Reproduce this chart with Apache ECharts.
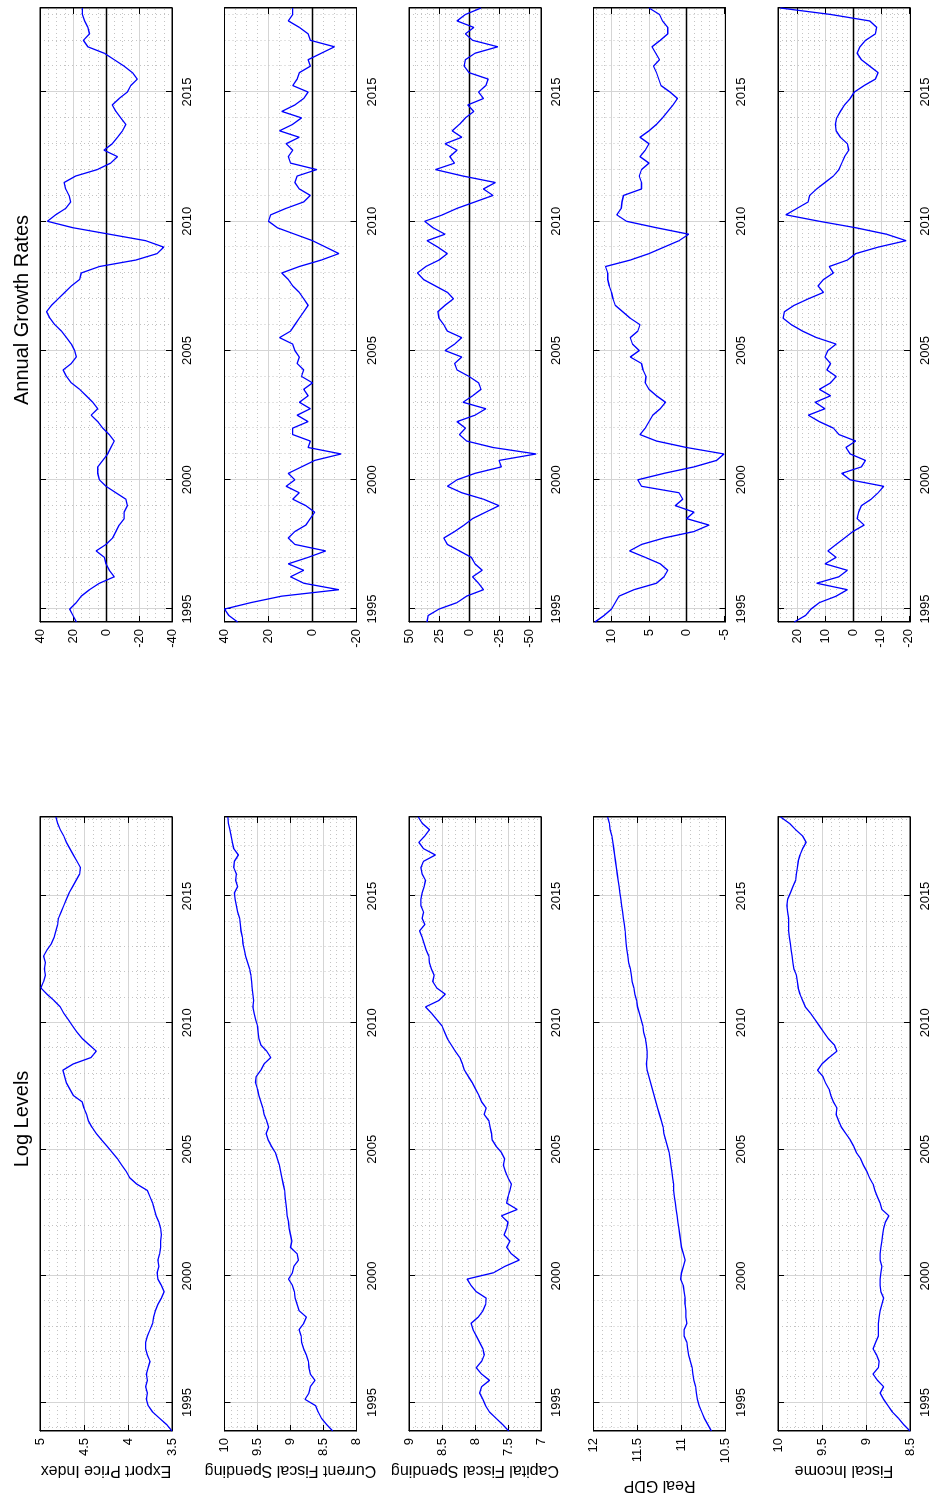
<!DOCTYPE html>
<html>
<head>
<meta charset="utf-8">
<script src="https://cdn.jsdelivr.net/npm/echarts@6/dist/echarts.min.js"></script>
<style>
  html, body { margin: 0; padding: 0; background: #fff; overflow: hidden; }
  #page { position: relative; width: 935px; height: 1494px; overflow: hidden; background: #fff; }
  /* the figure is laid out landscape and turned a quarter turn counter-clockwise */
  #chart { position: absolute; left: 0; top: 0; width: 1494px; height: 935px;
           transform-origin: 0 0; transform: translate(0, 1494px) rotate(-90deg); }
</style>
</head>
<body>
<div id="page"><div id="chart"></div></div>
<script>
// ---- time axis: quarterly observations ----
const quarterStep = 0.25;
const levelStart = 1993.875;   // first quarter of the log-level series
const growthStart = 1994.5;    // first quarter of the growth-rate series
const yearTicks = [1995, 2000, 2005, 2010, 2015];

const variableNames = ['Export Price Index', 'Current Fiscal Spending', 'Capital Fiscal Spending', 'Real GDP', 'Fiscal Income'];
const columnTitles = ['Log Levels', 'Annual Growth Rates'];

// ---- log levels ----
const exportPriceLevel = [3.50,
  3.56,3.64,3.72,3.77, 3.79,3.78,3.80,3.78, 3.79,3.77,3.75,3.78, 3.80,3.80,3.78,3.75,
  3.72,3.71,3.69,3.66, 3.62,3.59,3.62,3.66, 3.67,3.65,3.66,3.64, 3.63,3.63,3.62,3.63,
  3.65,3.68,3.70,3.72, 3.75,3.78,3.90,3.98, 4.02,4.07,4.12,4.18, 4.24,4.30,4.36,4.41,
  4.45,4.47,4.50,4.52, 4.62,4.66,4.70,4.72, 4.74,4.62,4.42,4.36, 4.44,4.52,4.58,4.63,
  4.68,4.73,4.77,4.84, 4.92,4.99,4.96,4.94, 4.95,4.94,4.96,4.92, 4.87,4.84,4.82,4.80,
  4.79,4.76,4.73,4.70, 4.67,4.63,4.59,4.55, 4.54,4.58,4.62,4.66, 4.70,4.73,4.77,4.80,
  4.82];
const currentSpendingLevel = [8.36,
  8.45,8.53,8.58,8.62, 8.78,8.72,8.70,8.63, 8.70,8.72,8.73,8.76, 8.80,8.83,8.84,8.87,
  8.80,8.76,8.87,8.90, 8.93,8.94,8.97,9.03, 8.97,8.95,8.88,8.90, 9.00,8.98,9.00,9.02,
  9.03,9.05,9.06,9.07, 9.08,9.09,9.11,9.13, 9.15,9.17,9.20,9.23, 9.29,9.34,9.37,9.33,
  9.36,9.40,9.42,9.45, 9.48,9.50,9.53,9.52, 9.45,9.40,9.30,9.36, 9.45,9.48,9.49,9.50,
  9.53,9.55,9.57,9.56, 9.57,9.58,9.59,9.60, 9.62,9.65,9.68,9.70, 9.72,9.73,9.75,9.76,
  9.77,9.80,9.82,9.84, 9.85,9.80,9.83,9.82, 9.86,9.85,9.79,9.86, 9.88,9.90,9.92,9.94,
  9.95];
const capitalSpendingLevel = [7.49,
  7.58,7.68,7.78,7.84, 7.88,7.93,7.90,7.78, 7.90,7.98,7.90,7.86, 7.88,7.93,7.98,8.03,
  8.06,7.95,7.88,7.84, 7.83,7.98,8.06,8.12, 7.72,7.55,7.33,7.45, 7.52,7.47,7.56,7.52,
  7.50,7.60,7.36,7.52, 7.50,7.47,7.45,7.50, 7.54,7.57,7.55,7.60, 7.68,7.74,7.75,7.77,
  7.79,7.86,7.83,7.90, 7.94,7.99,8.04,8.10, 8.16,8.19,8.23,8.30, 8.36,8.42,8.46,8.50,
  8.58,8.66,8.75,8.55, 8.45,8.58,8.64,8.62, 8.66,8.69,8.70,8.74, 8.77,8.80,8.84,8.76,
  8.80,8.78,8.82,8.82, 8.80,8.77,8.75,8.80, 8.82,8.78,8.60,8.78, 8.85,8.76,8.69,8.80,
  8.86];
const realGdpLevel = [10.66,
  10.70,10.74,10.77,10.80, 10.82,10.83,10.84,10.86, 10.87,10.88,10.90,10.92, 10.93,10.94,10.97,10.97,
  10.94,10.95,10.95,10.96, 10.96,10.97,10.98,11.01, 11.00,10.98,10.96,10.98, 11.00,11.01,11.02,11.03,
  11.04,11.05,11.06,11.07, 11.08,11.09,11.09,11.10, 11.11,11.12,11.13,11.14, 11.16,11.18,11.20,11.21,
  11.23,11.25,11.27,11.29, 11.31,11.33,11.35,11.37, 11.39,11.40,11.39,11.39, 11.40,11.41,11.43,11.44,
  11.46,11.48,11.50,11.51, 11.53,11.54,11.56,11.57, 11.58,11.60,11.61,11.62, 11.63,11.635,11.64,11.65,
  11.66,11.67,11.68,11.69, 11.70,11.71,11.72,11.73, 11.74,11.75,11.76,11.77, 11.78,11.79,11.81,11.82,
  11.84];
const fiscalIncomeLevel = [8.50,
  8.57,8.63,8.70,8.75, 8.80,8.84,8.80,8.87, 8.92,8.86,8.85,8.88, 8.92,8.89,8.86,8.86,
  8.86,8.85,8.84,8.82, 8.80,8.83,8.84,8.84, 8.83,8.82,8.84,8.84, 8.83,8.82,8.81,8.80,
  8.78,8.74,8.82,8.84, 8.87,8.90,8.92,8.96, 8.99,9.03,9.06,9.11, 9.14,9.18,9.23,9.28,
  9.31,9.34,9.33,9.37, 9.40,9.42,9.46,9.49, 9.55,9.50,9.42,9.33, 9.36,9.43,9.48,9.53,
  9.58,9.63,9.69,9.72, 9.75,9.77,9.78,9.79, 9.82,9.83,9.84,9.85, 9.86,9.87,9.88,9.88,
  9.88,9.89,9.90,9.89, 9.86,9.83,9.80,9.79, 9.78,9.77,9.75,9.72, 9.68,9.72,9.80,9.87,
  9.97];

// ---- annual growth rates (%) ----
const exportPriceGrowth = [18,20,
  22,18,15,10, 4,-5,-2,0, 1,6,0,-4, -6,-8,-11,-11, -13,-12,-6,0,
  4,5,5,2, -1,-3,-5,-2, 2,5,9,5, 8,12,16,21, 24,26,21,18,
  19,21,24,27, 31,34,36,33, 29,25,21,16, 15,4,-18,-31, -35,-24,-2,20,
  35.5,30.5,24.4,21.4, 22.4,24.4,25.4,18.4, 5.3,-2.8,-7,1.2, -3.8,-7,-10,-12, -9,-6,-3.8,-8,
  -13,-15,-19,-16, -11,-5,1,11, 13.7,10,11,13,
  14.3,14.3];
const currentSpendingGrowth = [34,38,
  40,28,14,-12, 4,10,4,11, 2,-6,8,11, 8,3,1,-1, 3,9,6,12,
  8,11,5,-1, -13,2,1,9, 9,2,7,1, 6,2,4,0, 5,4,7,6,
  8,9,15,10, 8,6,4,2, 4,6,9,11, 14,6,-4,-12, -6,0,8,16,
  20,19,12,4, 1,6,8,7, -2,10,11,9, 12,6,15,9, 5,14,8,4,
  2,9,7,6, 1,2,-4,-10, 1,2,6,11,
  9,9];
const capitalSpendingGrowth = [35,34,
  25,10,2,-12, -8,-3,-11,-5, -2,8,18,21, 12,4,-3,-14, -25,-12,6,18,
  10,-5,-27,-25, -56,-20,2,8, 3,10,-5,-14, 5,-3,-10,-8, 0,10,12,6,
  20,12,6,18, 21,25,26,20, 13,18,28,38, 43,36,25,18, 26,35,20,30,
  37,22,10,-5, -20,-12,-22,5, 28,12,16,10, 20,6,14,8, 3,-4,1,-12,
  -8,-14,-16,0, 4,3,-5,-24, -3,3,-4,10,
  3,-10];
const realGdpGrowth = [12.2,11,
  10,9.5,9,7, 4,3,2.5,3.5, 5.5,7.6,6,3, -1,-3,0,-1, 1.5,0.5,1,6,
  6.5,3,-1,-4, -5,0,4,6.2, 5.5,5,4.5,3.5, 2.8,4,5,5.5, 5.4,5.8,6,7.5,
  6.3,7.2,7.5,6.5, 6.2,7.5,8.5,9.5, 9.8,10,10.3,10.5, 10.5,10.8,7.5,5, 3,1,-0.3,4,
  8,9.3,8.7,8.6, 8.4,6,6,6.3, 6,5,6.2,5.5, 5,6.2,5,4, 3.2,2.5,1.8,1.2,
  2.2,3.4,3.7,4, 4.4,3.6,4.1,4.6, 3.5,2.5,2.5,3.2,
  3.6,5];
const fiscalIncomeGrowth = [21,17,
  15,12,6,2, 13,5,2,10, 6,9,6,3, 0,-4,-1.5,-2, -3,-6.5,-9,-11,
  1,4,-3,-4.5, 1,2.5,-1,5, 7,12,16,10, 13.5,8,12,8, 6,9.3,8,10,
  9,6,13,18, 22,25,24.5,21, 16,10.5,12.5,10.5, 7,8.5,2,-1, -9,-19,-12,-1,
  12,24,20,16, 15.5,13,10,7, 5,4,3,1.5, 2,4.5,6,6.3, 5.8,4.5,3,1,
  -0.5,-4,-8,-9, -6,-3,-1.5,-2.5, -4.5,-8,-8.5,-6,
  8,26];

// ---- value-axis limits, labelled ticks and minor-grid spacing ----
const levelLimits = [[3.5, 5], [8, 10], [7, 9], [10.5, 12], [8.5, 10]];
const levelTicks = [[3.5, 4, 4.5, 5], [8, 8.5, 9, 9.5, 10], [7, 7.5, 8, 8.5, 9], [10.5, 11, 11.5, 12], [8.5, 9, 9.5, 10]];
const levelMinorStep = [0.1, 0.1, 0.1, 0.1, 0.1];
const growthLimits = [[-40, 40], [-20, 40], [-60, 50], [-5.2, 12.4], [-20.4, 26.8]];
const growthTicks = [[-40, -20, 0, 20, 40], [-20, 0, 20, 40], [-50, -25, 0, 25, 50], [-5, 0, 5, 10], [-20, -10, 0, 10, 20]];
const growthMinorStep = [5, 5, 5, 1, 2];

const levelSeries = [exportPriceLevel, currentSpendingLevel, capitalSpendingLevel, realGdpLevel, fiscalIncomeLevel];
const growthSeries = [exportPriceGrowth, currentSpendingGrowth, capitalSpendingGrowth, realGdpGrowth, fiscalIncomeGrowth];

// ---- figure layout (landscape, before the quarter turn) ----
const colLeft = [63, 872];
const colWidth = 614;
const rowTop = [40, 224.5, 409, 593.5, 778];
const rowHeight = 132;
const levelNameGap = [31, 31, 31, 46, 31];

const FONT = '"Liberation Sans", Arial, Helvetica, sans-serif';
const GRID_MAJOR = '#d5d5d5';
const GRID_MINOR = '#c4c4c4';

function round4(v) { return Math.round(v * 10000) / 10000; }
function minorValues(min, max, step, majors) {
  const out = [];
  const first = Math.ceil(min / step - 1e-9);
  const last = Math.floor(max / step + 1e-9);
  for (let k = first; k <= last; k++) {
    const v = round4(k * step);
    if (majors.indexOf(v) < 0 && v > min && v < max) out.push(v);
  }
  return out;
}
function toPairs(values, start) {
  return values.map((v, i) => [round4(start + i * quarterStep), v]);
}

const grids = [], xAxes = [], yAxes = [], series = [];

function addPanel(col, row, values, start, limits, ticks, minorStep, name, nameGap, zeroLine) {
  const g = grids.length;
  grids.push({ left: colLeft[col], top: rowTop[row], width: colWidth, height: rowHeight,
               show: true, backgroundColor: '#fff', borderColor: '#000', borderWidth: 1 });
  const tMin = round4(start);
  const tMax = round4(start + (values.length - 1) * quarterStep);
  const yearMinor = minorValues(tMin, tMax, 1, yearTicks);
  const valueMinor = minorValues(limits[0], limits[1], minorStep, ticks);
  const xi = xAxes.length, yi = yAxes.length;

  // time axis: labels, inward ticks, solid major grid
  xAxes.push({ type: 'value', gridIndex: g, min: tMin, max: tMax, position: 'bottom',
    axisLine: { show: true, onZero: false, lineStyle: { color: '#000', width: 1 } },
    axisTick: { show: true, inside: true, length: 6, customValues: yearTicks, lineStyle: { color: '#000' } },
    axisLabel: { show: true, customValues: yearTicks, margin: 9, color: '#000', fontSize: 13, fontFamily: FONT,
                 formatter: v => String(v) },
    splitLine: { show: true, lineStyle: { color: GRID_MAJOR, width: 1 } } });
  // opposite edge ticks
  xAxes.push({ type: 'value', gridIndex: g, min: tMin, max: tMax, position: 'top',
    axisLine: { show: true, onZero: false, lineStyle: { color: '#000', width: 1 } },
    axisTick: { show: true, inside: true, length: 6, customValues: yearTicks, lineStyle: { color: '#000' } },
    axisLabel: { show: false }, splitLine: { show: false } });
  // yearly dotted minor grid
  xAxes.push({ type: 'value', gridIndex: g, min: tMin, max: tMax, position: 'bottom',
    axisLine: { show: false, onZero: false }, axisTick: { show: false, customValues: yearMinor },
    axisLabel: { show: false }, splitLine: { show: true, lineStyle: { color: GRID_MINOR, width: 1, type: [1, 3] } } });

  const yMain = { type: 'value', gridIndex: g, min: limits[0], max: limits[1], position: 'left',
    axisLine: { show: true, onZero: false, lineStyle: { color: '#000', width: 1 } },
    axisTick: { show: true, inside: true, length: 6, customValues: ticks, lineStyle: { color: '#000' } },
    axisLabel: { show: true, customValues: ticks, margin: 7, color: '#000', fontSize: 13, fontFamily: FONT,
                 formatter: v => String(v) },
    splitLine: { show: true, lineStyle: { color: GRID_MAJOR, width: 1 } } };
  if (name) {
    Object.assign(yMain, { name: name, nameLocation: 'middle', nameGap: nameGap, nameRotate: 90,
      nameTextStyle: { color: '#000', fontSize: 16, fontFamily: FONT } });
  }
  yAxes.push(yMain);
  yAxes.push({ type: 'value', gridIndex: g, min: limits[0], max: limits[1], position: 'right',
    axisLine: { show: true, onZero: false, lineStyle: { color: '#000', width: 1 } },
    axisTick: { show: true, inside: true, length: 6, customValues: ticks, lineStyle: { color: '#000' } },
    axisLabel: { show: false }, splitLine: { show: false } });
  yAxes.push({ type: 'value', gridIndex: g, min: limits[0], max: limits[1], position: 'left',
    axisLine: { show: false, onZero: false }, axisTick: { show: false, customValues: valueMinor },
    axisLabel: { show: false }, splitLine: { show: true, lineStyle: { color: GRID_MINOR, width: 1, type: [1, 3] } } });

  const s = { type: 'line', xAxisIndex: xi, yAxisIndex: yi, data: toPairs(values, start),
    showSymbol: false, symbol: 'none', clip: true, animation: false, z: 5,
    lineStyle: { color: '#0000ff', width: 1.3 } };
  if (zeroLine) {
    s.markLine = { silent: true, symbol: 'none', animation: false, label: { show: false },
      lineStyle: { color: '#000', width: 1.3, type: 'solid' }, data: [{ yAxis: 0 }] };
  }
  series.push(s);
}

for (let i = 0; i < 5; i++) {
  addPanel(0, i, levelSeries[i], levelStart, levelLimits[i], levelTicks[i], levelMinorStep[i],
           variableNames[i], levelNameGap[i], false);
  addPanel(1, i, growthSeries[i], growthStart, growthLimits[i], growthTicks[i], growthMinorStep[i],
           null, 0, true);
}

const chart = echarts.init(document.getElementById('chart'), null, { renderer: 'canvas', width: 1494, height: 935 });
chart.setOption({
  backgroundColor: '#fff',
  animation: false,
  textStyle: { fontFamily: FONT },
  title: [
    { text: columnTitles[0], left: colLeft[0] + colWidth / 2, top: 7, textAlign: 'center',
      textStyle: { fontSize: 20, fontWeight: 'normal', color: '#000', fontFamily: FONT } },
    { text: columnTitles[1], left: colLeft[1] + colWidth / 2, top: 7, textAlign: 'center',
      textStyle: { fontSize: 20, fontWeight: 'normal', color: '#000', fontFamily: FONT } }
  ],
  grid: grids,
  xAxis: xAxes,
  yAxis: yAxes,
  series: series
});
</script>
</body>
</html>
